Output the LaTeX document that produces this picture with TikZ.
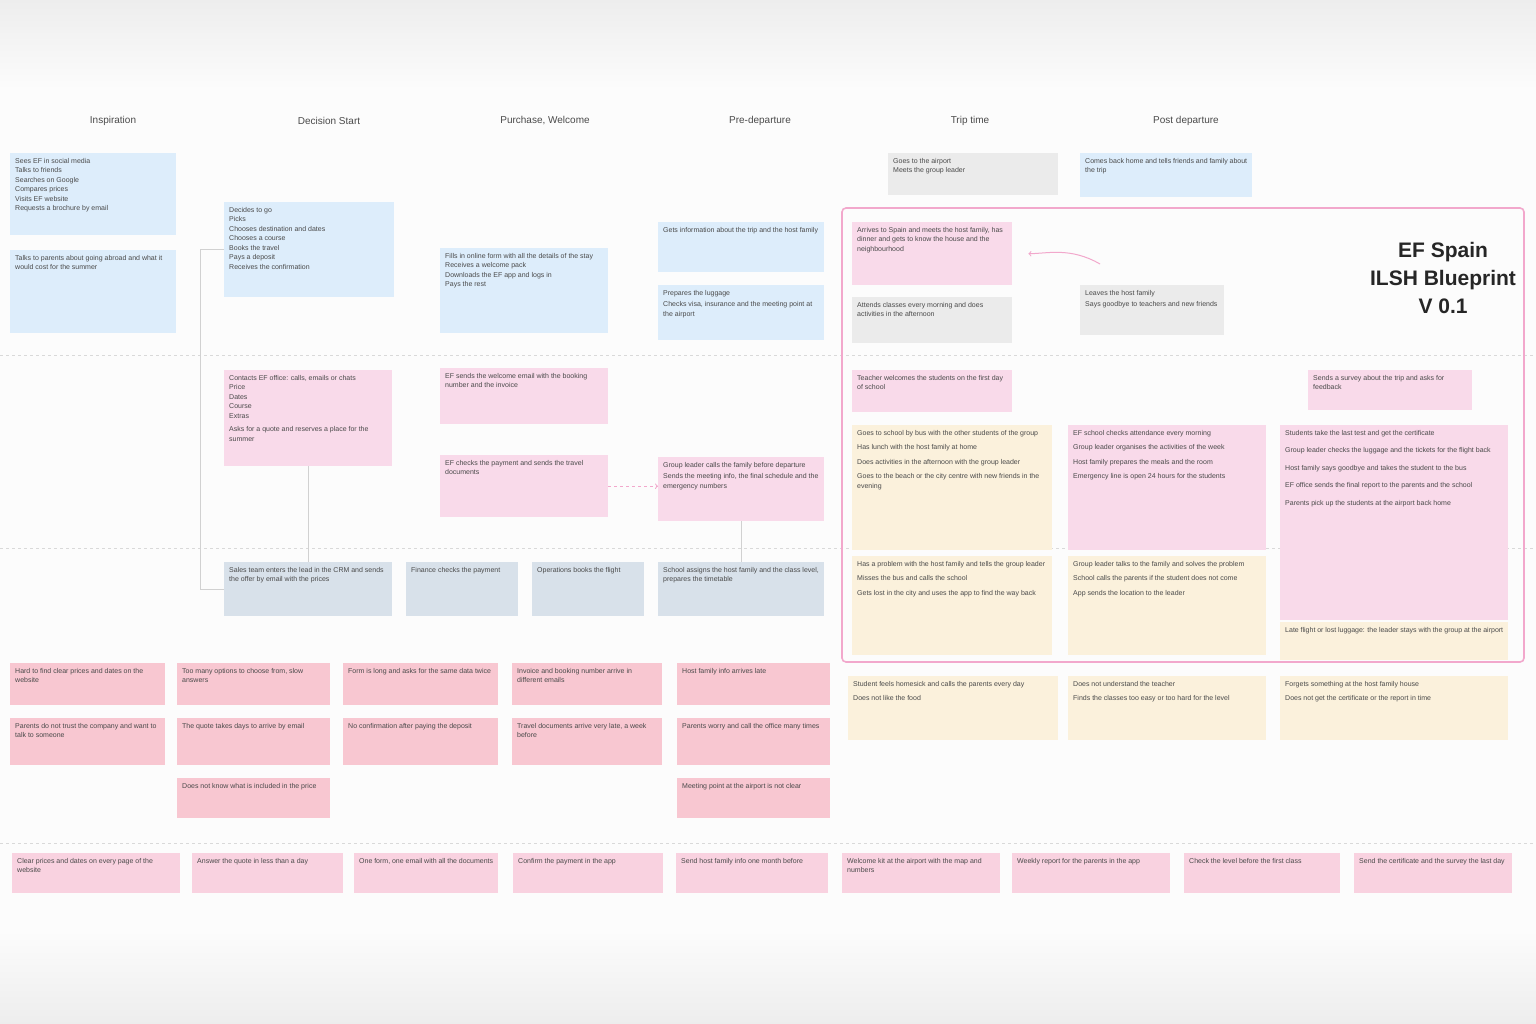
\documentclass[tikz,border=0pt]{standalone}
\usepackage{fontspec}
\setmainfont{Liberation Sans}
\usepackage{tikz}

\definecolor{paper}{HTML}{FCFCFC}
\definecolor{sky}{HTML}{DDEDFB}
\definecolor{rose}{HTML}{F9DAEA}
\definecolor{sand}{HTML}{FBF1DC}
\definecolor{slate}{HTML}{D8E1EA}
\definecolor{mist}{HTML}{EBEBEB}
\definecolor{coral}{HTML}{F8C7D1}
\definecolor{blush}{HTML}{F9D2E0}
\definecolor{ink}{HTML}{4A4A4A}
\definecolor{rim}{HTML}{F2A8CC}

\newcommand{\cardbody}[3]{\parbox[t][#2pt][t]{#1pt}{\raggedright #3}}

\begin{document}
\begin{tikzpicture}[x=1pt,y=-1pt,
    card/.style={anchor=north west, inner sep=5pt, text=ink,
                 font=\fontsize{7}{9.5}\selectfont},
    stagehead/.style={text=ink, font=\fontsize{10}{12}\selectfont},
    link/.style={draw=black!18, line width=0.8pt},
    flowarrow/.style={->, draw=rim, line width=1pt},
    lane/.style={draw=black!15, dashed, line width=0.8pt}]
    \useasboundingbox (0,0) rectangle (1536,1024);
    % Background
    \fill[paper] (0,0) rectangle (1536,1024);
    \shade[top color=black!7, bottom color=paper] (0,0) rectangle (1536,90);
    \shade[top color=paper, bottom color=black!7] (0,930) rectangle (1536,1024);

    % Stages
    \node[stagehead] (s1) at (113,121) {Inspiration};
    \node[stagehead] (s2) at (329,121) {Decision Start};
    \node[stagehead] (s3) at (545,121) {Purchase, Welcome};
    \node[stagehead] (s4) at (760,121) {Pre-departure};
    \node[stagehead] (s5) at (970,121) {Trip time};
    \node[stagehead] (s6) at (1186,121) {Post departure};

    % Lanes
    \draw[lane] (0,355) -- (1536,355);
    \draw[lane] (0,548) -- (1536,548);
    \draw[lane] (0,843) -- (1536,843);

    % Customer actions
    \node[card, fill=sky] (a1) at (10,153) {\cardbody{156}{72}{Sees EF in social media\\ Talks to friends\\ Searches on Google\\ Compares prices\\ Visits EF website\\ Requests a brochure by email}};
    \node[card, fill=sky] (a2) at (10,250) {\cardbody{156}{73}{Talks to parents about going abroad and what it would cost for the summer}};
    \node[card, fill=sky] (b1) at (224,202) {\cardbody{160}{85}{Decides to go\\ Picks\\ Chooses destination and dates\\ Chooses a course\\ Books the travel\\ Pays a deposit\\ Receives the confirmation}};
    \node[card, fill=sky] (c1) at (440,248) {\cardbody{158}{75}{Fills in online form with all the details of the stay\\ Receives a welcome pack\\ Downloads the EF app and logs in\\ Pays the rest}};
    \node[card, fill=sky] (d1) at (658,222) {\cardbody{156}{40}{Gets information about the trip and the host family}};
    \node[card, fill=sky] (d2) at (658,285) {\cardbody{156}{45}{Prepares the luggage\\[2pt] Checks visa, insurance and the meeting point at the airport}};
    \node[card, fill=mist] (e0) at (888,153) {\cardbody{160}{32}{Goes to the airport\\ Meets the group leader}};
    \node[card, fill=sky] (f0) at (1080,153) {\cardbody{162}{34}{Comes back home and tells friends and family about the trip}};

    % Trip frame
    \draw[rim, line width=1.6pt, rounded corners=4pt] (842,208) rectangle (1524,662);
    \node[font=\fontsize{21}{28}\selectfont\bfseries, text=black!85, align=center] (title) at (1443,278) {EF Spain\\ ILSH Blueprint\\ V 0.1};

    \node[card, fill=rose] (e1) at (852,222) {\cardbody{150}{53}{Arrives to Spain and meets the host family, has dinner and gets to know the house and the neighbourhood}};
    \node[card, fill=mist] (e2) at (852,297) {\cardbody{150}{36}{Attends classes every morning and does activities in the afternoon}};
    \node[card, fill=mist] (f1) at (1080,285) {\cardbody{134}{40}{Leaves the host family\\[2pt] Says goodbye to teachers and new friends}};
    \coordinate (back) at (1100,264);
    \draw[flowarrow, shorten >=16pt] (back) to[out=150,in=0] (e1.east);

    % Frontstage
    \node[card, fill=rose] (b2) at (224,370) {\cardbody{158}{86}{Contacts EF office: calls, emails or chats\\ Price\\ Dates\\ Course\\ Extras\\[4pt] Asks for a quote and reserves a place for the summer}};
    \node[card, fill=rose] (c2) at (440,368) {\cardbody{158}{46}{EF sends the welcome email with the booking number and the invoice}};
    \node[card, fill=rose] (c3) at (440,455) {\cardbody{158}{52}{EF checks the payment and sends the travel documents}};
    \node[card, fill=rose] (d3) at (658,457) {\cardbody{156}{54}{Group leader calls the family before departure\\[2pt] Sends the meeting info, the final schedule and the emergency numbers}};
    \node[card, fill=rose] (e3) at (852,370) {\cardbody{150}{32}{Teacher welcomes the students on the first day of school}};
    \node[card, fill=rose] (g3) at (1308,370) {\cardbody{154}{30}{Sends a survey about the trip and asks for feedback}};
    \draw[flowarrow, dashed] (c3.east) -- (c3.east -| d3.west);

    % Daily life grid
    \node[card, fill=sand] (e4) at (852,425) {\cardbody{190}{115}{Goes to school by bus with the other students of the group\\[5pt] Has lunch with the host family at home\\[5pt] Does activities in the afternoon with the group leader\\[5pt] Goes to the beach or the city centre with new friends in the evening}};
    \node[card, fill=sand] (e5) at (852,556) {\cardbody{190}{89}{Has a problem with the host family and tells the group leader\\[5pt] Misses the bus and calls the school\\[5pt] Gets lost in the city and uses the app to find the way back}};
    \node[card, fill=rose] (f4) at (1068,425) {\cardbody{188}{115}{EF school checks attendance every morning\\[5pt] Group leader organises the activities of the week\\[5pt] Host family prepares the meals and the room\\[5pt] Emergency line is open 24 hours for the students}};
    \node[card, fill=sand] (f5) at (1068,556) {\cardbody{188}{89}{Group leader talks to the family and solves the problem\\[5pt] School calls the parents if the student does not come\\[5pt] App sends the location to the leader}};
    \node[card, fill=rose] (g4) at (1280,425) {\cardbody{218}{185}{Students take the last test and get the certificate\\[8pt] Group leader checks the luggage and the tickets for the flight back\\[8pt] Host family says goodbye and takes the student to the bus\\[8pt] EF office sends the final report to the parents and the school\\[8pt] Parents pick up the students at the airport back home}};
    \node[card, fill=sand] (g5) at (1280,622) {\cardbody{218}{28}{Late flight or lost luggage: the leader stays with the group at the airport}};
    \node[card, fill=sand] (e6) at (848,676) {\cardbody{200}{54}{Student feels homesick and calls the parents every day\\[5pt] Does not like the food}};
    \node[card, fill=sand] (f6) at (1068,676) {\cardbody{188}{54}{Does not understand the teacher\\[5pt] Finds the classes too easy or too hard for the level}};
    \node[card, fill=sand] (g6) at (1280,676) {\cardbody{218}{54}{Forgets something at the host family house\\[5pt] Does not get the certificate or the report in time}};

    % Backstage
    \node[card, fill=slate] (b4) at (224,562) {\cardbody{158}{44}{Sales team enters the lead in the CRM and sends the offer by email with the prices}};
    \node[card, fill=slate] (c4) at (406,562) {\cardbody{102}{44}{Finance checks the payment}};
    \node[card, fill=slate] (c5) at (532,562) {\cardbody{102}{44}{Operations books the flight}};
    \node[card, fill=slate] (d4) at (658,562) {\cardbody{156}{44}{School assigns the host family and the class level, prepares the timetable}};
    \draw[link] (b1.west) -- ++(-24,0) |- (b4.west);
    \draw[link] (b2.south) -- (b4.north);
    \draw[link] (d3.south) -- (d4.north);

    % Pain points
    \node[card, fill=coral] (p1) at (10,663) {\cardbody{145}{32}{Hard to find clear prices and dates on the website}};
    \node[card, fill=coral] (p2) at (10,718) {\cardbody{145}{37}{Parents do not trust the company and want to talk to someone}};
    \node[card, fill=coral] (p3) at (177,663) {\cardbody{143}{32}{Too many options to choose from, slow answers}};
    \node[card, fill=coral] (p4) at (177,718) {\cardbody{143}{37}{The quote takes days to arrive by email}};
    \node[card, fill=coral] (p5) at (177,778) {\cardbody{143}{30}{Does not know what is included in the price}};
    \node[card, fill=coral] (p6) at (343,663) {\cardbody{145}{32}{Form is long and asks for the same data twice}};
    \node[card, fill=coral] (p7) at (343,718) {\cardbody{145}{37}{No confirmation after paying the deposit}};
    \node[card, fill=coral] (p8) at (512,663) {\cardbody{140}{32}{Invoice and booking number arrive in different emails}};
    \node[card, fill=coral] (p9) at (512,718) {\cardbody{140}{37}{Travel documents arrive very late, a week before}};
    \node[card, fill=coral] (p10) at (677,663) {\cardbody{143}{32}{Host family info arrives late}};
    \node[card, fill=coral] (p11) at (677,718) {\cardbody{143}{37}{Parents worry and call the office many times}};
    \node[card, fill=coral] (p12) at (677,778) {\cardbody{143}{30}{Meeting point at the airport is not clear}};

    % Opportunities
    \foreach \n/\x/\w/\txt in {1/12/158/{Clear prices and dates on every page of the website},
                              2/192/141/{Answer the quote in less than a day},
                              3/354/134/{One form, one email with all the documents},
                              4/513/140/{Confirm the payment in the app},
                              5/676/142/{Send host family info one month before},
                              6/842/148/{Welcome kit at the airport with the map and numbers},
                              7/1012/148/{Weekly report for the parents in the app},
                              8/1184/146/{Check the level before the first class},
                              9/1354/148/{Send the certificate and the survey the last day}}
        \node[card, fill=blush] (o\n) at (\x,853) {\cardbody{\w}{30}{\txt}};
\end{tikzpicture}
\end{document}
